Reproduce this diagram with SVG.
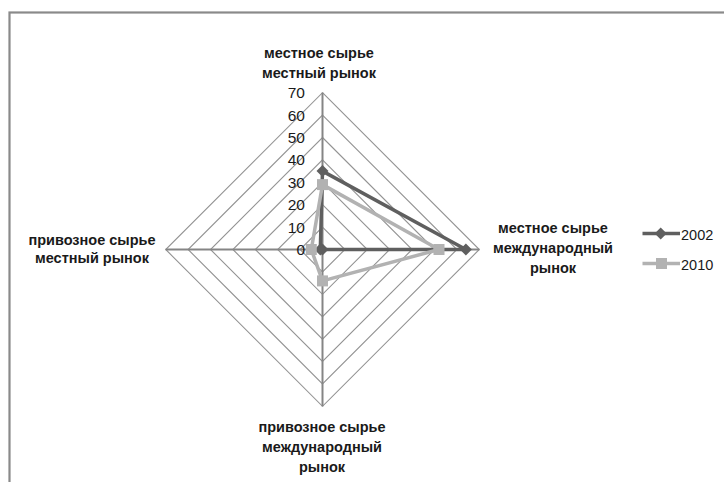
<svg xmlns="http://www.w3.org/2000/svg" width="724" height="482" viewBox="0 0 724 482">
<style>
.ring{fill:none;stroke:#939393;stroke-width:1.1}
.spoke{stroke:#858585;stroke-width:2}
.tick{font-family:"Liberation Sans",Arial,sans-serif;font-size:15.5px;fill:#1a1a1a;text-anchor:end}
.cat{font-family:"Liberation Sans",Arial,sans-serif;font-size:14.5px;font-weight:bold;fill:#1a1a1a;text-anchor:middle}
.leg{font-family:"Liberation Sans",Arial,sans-serif;font-size:14.5px;fill:#1a1a1a}
.s02{fill:none;stroke:#5f5f5f;stroke-width:3.5;stroke-linejoin:round}
.s10{fill:none;stroke:#b2b2b2;stroke-width:3.5;stroke-linejoin:round}
.m02{fill:#5f5f5f}
.m10{fill:#b2b2b2}
</style>
<defs>
<polygon id="dia" points="0,-6 6,0 0,6 -6,0"/>
<rect id="sq" x="-5.5" y="-5.5" width="11" height="11"/>
</defs>
<rect x="0" y="0" width="724" height="482" fill="#ffffff"/>
<rect x="9.5" y="12.5" width="800" height="600" fill="none" stroke="#8a8a8a" stroke-width="2.2"/>
<g id="grid">
<polygon class="ring" points="322.5,227.1 344.9,249.5 322.5,271.9 300.1,249.5"/>
<polygon class="ring" points="322.5,204.7 367.3,249.5 322.5,294.3 277.7,249.5"/>
<polygon class="ring" points="322.5,182.3 389.7,249.5 322.5,316.7 255.3,249.5"/>
<polygon class="ring" points="322.5,159.9 412.1,249.5 322.5,339.1 232.9,249.5"/>
<polygon class="ring" points="322.5,137.5 434.5,249.5 322.5,361.5 210.5,249.5"/>
<polygon class="ring" points="322.5,115.1 456.9,249.5 322.5,383.9 188.1,249.5"/>
<polygon class="ring" points="322.5,92.7 479.3,249.5 322.5,406.3 165.7,249.5"/>
<line class="spoke" x1="322.5" y1="249.5" x2="322.5" y2="92.7"/>
<line class="spoke" x1="322.5" y1="249.5" x2="479.3" y2="249.5"/>
<line class="spoke" x1="322.5" y1="249.5" x2="322.5" y2="406.3"/>
<line class="spoke" x1="322.5" y1="249.5" x2="165.7" y2="249.5"/>
</g>
<g id="ticks">
<text class="tick" x="305" y="255">0</text>
<text class="tick" x="305" y="232.6">10</text>
<text class="tick" x="305" y="210.2">20</text>
<text class="tick" x="305" y="187.8">30</text>
<text class="tick" x="305" y="165.4">40</text>
<text class="tick" x="305" y="143">50</text>
<text class="tick" x="305" y="120.6">60</text>
<text class="tick" x="305" y="98.2">70</text>
</g>
<g id="series-2002">
<polygon class="s02" points="322.5,171.1 465.9,249.5 322.5,249.5 320.3,249.5"/>
<use href="#dia" class="m02" x="322.5" y="171.1"/>
<use href="#dia" class="m02" x="465.9" y="249.5"/>
<use href="#dia" class="m02" x="322.5" y="249.5"/>
<use href="#dia" class="m02" x="320.3" y="249.5"/>
</g>
<g id="series-2010">
<polygon class="s10" points="322.5,184.6 439,249.5 322.5,280.9 311.3,249.5"/>
<use href="#sq" class="m10" x="322.5" y="184.6"/>
<use href="#sq" class="m10" x="439" y="249.5"/>
<use href="#sq" class="m10" x="322.5" y="280.9"/>
<use href="#sq" class="m10" x="311.3" y="249.5"/>
</g>
<g id="label-top">
<text class="cat" x="319" y="58.3">местное сырье</text>
<text class="cat" x="319" y="78.3">местный рынок</text>
</g>
<g id="label-right">
<text class="cat" x="553" y="232.7">местное сырье</text>
<text class="cat" x="553" y="253">международный</text>
<text class="cat" x="553" y="273">рынок</text>
</g>
<g id="label-bottom">
<text class="cat" x="322" y="431.7">привозное сырье</text>
<text class="cat" x="322" y="451.7">международный</text>
<text class="cat" x="322" y="472">рынок</text>
</g>
<g id="label-left">
<text class="cat" x="92" y="245">привозное сырье</text>
<text class="cat" x="92" y="263">местный рынок</text>
</g>
<g id="legend">
<line class="s02" x1="642.5" y1="233.5" x2="680" y2="233.5"/>
<use href="#dia" class="m02" x="660.7" y="233.5"/>
<text class="leg" x="681" y="239.5">2002</text>
<line class="s10" x1="642.5" y1="263.5" x2="680" y2="263.5"/>
<use href="#sq" class="m10" x="661.5" y="263.5"/>
<text class="leg" x="681" y="269.5">2010</text>
</g>
</svg>
